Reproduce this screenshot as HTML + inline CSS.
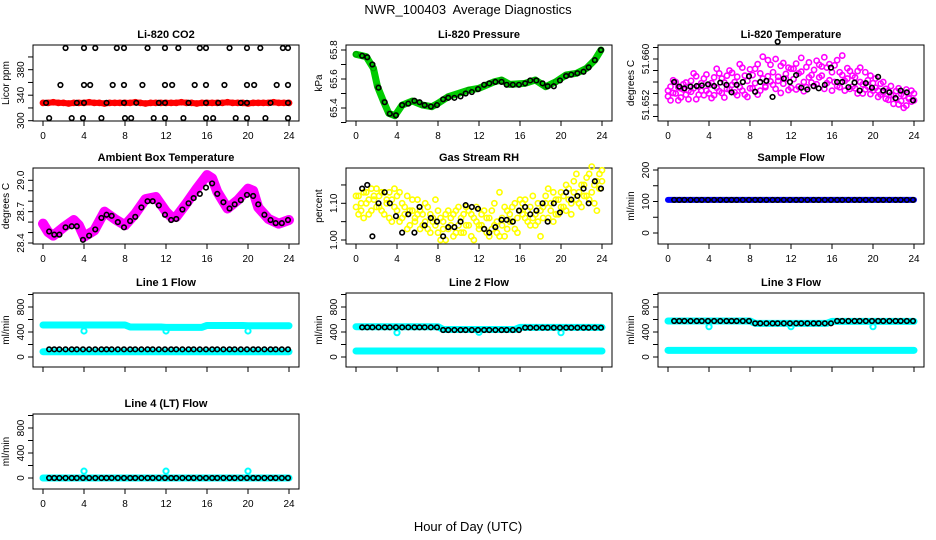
<!DOCTYPE html>
<html><head><meta charset="utf-8">
<style>
html,body{margin:0;padding:0;background:#fff;}
svg{display:block;font-family:"Liberation Sans",sans-serif;}
</style></head>
<body>
<svg id="chart" width="936" height="540" viewBox="0 0 936 540" xmlns="http://www.w3.org/2000/svg">
<rect x="0" y="0" width="936" height="540" fill="#fff"/>
<text x="468" y="14" text-anchor="middle" font-size="13">NWR_100403&#160; Average Diagnostics</text>
<text x="468" y="531" text-anchor="middle" font-size="13">Hour of Day (UTC)</text>
</svg>
<script>
const hoursB=[0.6,1.1,1.6,2.2,2.8,3.3,3.9,4.5,5.1,5.7,6.2,6.7,7.3,7.9,8.5,9.0,9.6,10.2,10.7,11.3,11.9,12.5,13.0,13.6,14.2,14.7,15.3,15.9,16.5,17.0,17.6,18.2,18.7,19.3,19.9,20.5,21.0,21.6,22.2,22.7,23.3,23.9];
const hoursF=[0,0.5,1,1.5,2,2.5,3,3.5,4,4.5,5,5.5,6,6.5,7,7.5,8,8.5,9,9.5,10,10.5,11,11.5,12,12.5,13,13.5,14,14.5,15,15.5,16,16.5,17,17.5,18,18.5,19,19.5,20,20.5,21,21.5,22,22.5,23,23.5,24];
const hoursC=[0,0.25,0.5,0.75,1,1.25,1.5,1.75,2,2.25,2.5,2.75,3,3.25,3.5,3.75,4,4.25,4.5,4.75,5,5.25,5.5,5.75,6,6.25,6.5,6.75,7,7.25,7.5,7.75,8,8.25,8.5,8.75,9,9.25,9.5,9.75,10,10.25,10.5,10.75,11,11.25,11.5,11.75,12,12.25,12.5,12.75,13,13.25,13.5,13.75,14,14.25,14.5,14.75,15,15.25,15.5,15.75,16,16.25,16.5,16.75,17,17.25,17.5,17.75,18,18.25,18.5,18.75,19,19.25,19.5,19.75,20,20.25,20.5,20.75,21,21.25,21.5,21.75,22,22.25,22.5,22.75,23,23.25,23.5,23.75,24];
const xTicks=[0,4,8,12,16,20,24];
const dipHours=[4,12,20];

// CO2
const co2Hours=[2.2,4.0,5.1,7.2,7.9,10.2,11.9,13.2,15.3,15.9,18.2,19.9,21.2,23.4,23.9,
1.7,4.0,4.6,6.8,7.9,9.7,11.9,12.6,14.8,15.9,17.7,19.9,20.6,22.8,23.9,
0.3,3.3,4.0,6.2,7.9,9.1,11.3,11.9,14.2,15.9,17.1,19.3,19.9,22.2,23.9,
0.6,2.8,3.9,5.7,8.0,8.6,10.8,11.9,13.7,15.9,16.6,18.8,19.9,21.7,23.9];
const co2Vals=[414,414,414,414,414,414,414,414,414,414,414,414,414,414,414,
356,356,356,356,356,356,356,356,356,356,356,356,356,356,356,
328,328,328,328,328,328,328,328,328,328,328,328,328,328,328,
304,304,304,304,304,304,304,304,304,304,304,304,304,304,304];
const co2Red=[328,328,329,328,328,327,328,328,328,329,328,328,327,328,328,328,328,328,329,328,327,328,328,328,328,328,328,329,328,328,327,328,328,328,328,328,329,328,328,328,327,328,328,328,328,329,328,328,328];
const co2Ticks=[300,320,340,360,380,400];
const co2Labels=[300,340,380];

// Pressure
const pressHours=[0,1,1.7,2.1,2.7,3.2,3.8,4.5,5.5,6.5,7.4,8,9,11,12,13.5,14.2,15,16.5,17.5,18.5,19.5,20.5,21.5,22.5,23.3,23.9];
const pressGreen=[65.77,65.754,65.674,65.547,65.443,65.363,65.347,65.42,65.448,65.42,65.409,65.432,65.478,65.524,65.536,65.581,65.593,65.563,65.57,65.593,65.547,65.581,65.628,65.639,65.674,65.731,65.8];
const pressB=[65.76,65.75,65.70,65.54,65.44,65.36,65.35,65.42,65.43,65.45,65.44,65.42,65.41,65.42,65.46,65.47,65.47,65.48,65.50,65.51,65.53,65.56,65.57,65.58,65.58,65.56,65.56,65.56,65.57,65.59,65.59,65.57,65.55,65.55,65.59,65.62,65.63,65.64,65.65,65.68,65.73,65.80];
const pressTicks=[65.3,65.4,65.5,65.6,65.7,65.8];
const pressLabels=["65.4","65.6","65.8"];
const pressLabelVals=[65.4,65.6,65.8];

// Li-820 temperature
const tempC1=[51.6535,51.6552,51.6541,51.6560,51.6528,51.6549,51.6556,51.6538,51.6545,
51.6562,51.6549,51.6570,51.6538,51.6558,51.6566,51.6545,51.6555,
51.6532,51.6568,51.6550,51.6575,51.6541,51.6559,51.6548,51.6580,
51.6555,51.6542,51.6569,51.6551,51.6585,51.6538,51.6562,51.6549,
51.6572,51.6558,51.6591,51.6545,51.6566,51.6553,51.6598,51.6561,
51.6577,51.6548,51.6569,51.6588,51.6557,51.6574,51.6546,51.6583,
51.6565,51.6592,51.6552,51.6578,51.6544,51.6586,51.6568,51.6559,
51.6581,51.6556,51.6590,51.6571,51.6548,51.6585,51.6563,51.6577,
51.6560,51.6598,51.6551,51.6572,51.6545,51.6566,51.6579,51.6552,
51.6568,51.6540,51.6585,51.6556,51.6547,51.6563,51.6539,51.6558,
51.6550,51.6534,51.6557,51.6542,51.6548,51.6529,51.6553,51.6537,
51.6544,51.6521,51.6539,51.6515,51.6547,51.6533,51.6526,51.6540];
const tempC2=[51.6545,51.6528,51.6563,51.6540,51.6551,51.6533,51.6547,51.6559,51.6530,
51.6543,51.6575,51.6530,51.6552,51.6545,51.6537,51.6573,51.6540,
51.6558,51.6537,51.6583,51.6544,51.6566,51.6533,51.6571,51.6547,
51.6576,51.6560,51.6537,51.6591,51.6545,51.6571,51.6534,51.6582,
51.6549,51.6583,51.6538,51.6575,51.6604,51.6551,51.6570,51.6590,
51.6555,51.6600,51.6562,51.6541,51.6593,51.6566,51.6585,51.6550,
51.6583,51.6547,51.6575,51.6602,51.6560,51.6551,51.6594,51.6572,
51.6553,51.6597,51.6568,51.6587,51.6603,51.6558,51.6591,51.6545,
51.6589,51.6553,51.6577,51.6606,51.6562,51.6584,51.6548,51.6571,
51.6549,51.6579,51.6560,51.6540,51.6577,51.6552,51.6571,51.6545,
51.6566,51.6545,51.6538,51.6560,51.6531,51.6544,51.6537,51.6522,
51.6530,51.6549,51.6527,51.6536,51.6519,51.6531,51.6545,51.6528];
const tempB=[51.6560,51.6552,51.6549,51.6552,51.6553,51.6554,51.6556,51.6553,51.6559,51.6555,51.6542,51.6555,51.6560,51.6570,51.6543,51.6560,51.6562,51.6534,51.6630,51.6566,51.6560,51.6572,51.6550,51.6547,51.6553,51.6549,51.6555,51.6585,51.6560,51.6560,51.6551,51.6559,51.6545,51.6558,51.6550,51.6569,51.6545,51.6542,51.6532,51.6545,51.6542,51.6528];
const tempTicks=[51.650,51.652,51.654,51.656,51.658,51.660,51.662];
const tempLabels=["51.652","51.660"];
const tempLabelVals=[51.652,51.660];

// Ambient box temperature
const ambHours=[0,0.5,1,2,3,3.5,4,5,6,7,8,9,10,11,12,12.5,13,14,15,16,16.5,17,18,19,20,20.5,21,22,23,24];
const ambVals=[28.585,28.505,28.47,28.55,28.62,28.57,28.46,28.52,28.70,28.63,28.57,28.68,28.82,28.84,28.70,28.65,28.65,28.78,28.92,29.05,29.02,28.89,28.73,28.81,28.92,28.90,28.74,28.63,28.585,28.62];
const ambB=[28.51,28.48,28.48,28.55,28.56,28.56,28.43,28.47,28.53,28.64,28.67,28.66,28.60,28.55,28.61,28.65,28.74,28.80,28.80,28.76,28.67,28.62,28.63,28.72,28.78,28.83,28.87,28.93,28.97,28.87,28.79,28.73,28.77,28.81,28.86,28.85,28.77,28.67,28.62,28.59,28.59,28.62];
const ambTicks=[28.4,28.5,28.6,28.7,28.8,28.9,29.0];
const ambLabels=["28.4","28.7","29.0"];
const ambLabelVals=[28.4,28.7,29.0];

// Gas stream RH
const rhC1=[1.09,1.12,1.08,1.13,1.10,1.07,1.14,1.11,1.09,
1.12,1.08,1.13,1.10,1.06,1.11,1.14,1.08,
1.05,1.10,1.07,1.12,1.04,1.08,1.06,1.11,
1.03,1.07,1.05,1.09,1.02,1.06,1.04,1.08,
1.00,1.05,1.07,1.03,1.06,1.01,1.08,1.04,
1.06,1.02,1.09,1.04,1.07,1.00,1.05,1.03,
1.04,1.08,1.02,1.06,1.03,1.10,1.05,1.01,
1.06,1.09,1.03,1.07,1.05,1.10,1.02,1.08,
1.07,1.11,1.05,1.09,1.06,1.04,1.10,1.08,
1.09,1.12,1.06,1.10,1.13,1.07,1.11,1.09,
1.12,1.08,1.14,1.10,1.16,1.11,1.13,1.09,
1.15,1.12,1.18,1.13,1.10,1.16,1.14,1.19];
const rhC2=[1.12,1.07,1.10,1.06,1.13,1.11,1.08,1.12,1.14,
1.09,1.13,1.07,1.11,1.13,1.05,1.09,1.12,
1.13,1.06,1.09,1.03,1.08,1.11,1.05,1.07,
1.08,1.04,1.10,1.03,1.07,1.05,1.11,1.02,
1.06,1.03,1.00,1.08,1.04,1.07,1.02,1.09,
1.02,1.07,1.04,1.08,1.01,1.06,1.09,1.04,
1.07,1.03,1.06,1.01,1.08,1.04,1.02,1.13,
1.04,1.01,1.08,1.05,1.09,1.03,1.06,1.11,
1.10,1.06,1.08,1.04,1.12,1.07,1.05,1.01,
1.06,1.10,1.14,1.08,1.05,1.11,1.07,1.13,
1.09,1.15,1.11,1.07,1.13,1.18,1.10,1.15,
1.12,1.17,1.11,1.20,1.15,1.08,1.18,1.16];
const rhB=[1.14,1.15,1.01,1.10,1.13,1.10,1.065,1.02,1.07,1.02,1.09,1.04,1.06,1.05,1.01,1.035,1.035,1.05,1.095,1.09,1.085,1.03,1.02,1.035,1.055,1.055,1.05,1.08,1.09,1.07,1.08,1.10,1.05,1.10,1.075,1.13,1.11,1.12,1.14,1.10,1.16,1.14];
const rhTicks=[1.00,1.05,1.10,1.15];
const rhLabels=["1.00","1.10"];
const rhLabelVals=[1.00,1.10];

// Sample flow
const sampleBlue=[105,105,105,105,105,105,105,105,105,105,105,105,105,105,105,105,105,105,105,105,105,105,105,105,105,105,105,105,105,105,105,105,105,105,105,105,105,105,105,105,105,105,105,105,105,105,105,105,105];
const sampleB=[105,105,105,105,105,105,105,105,105,105,105,105,105,105,105,105,105,105,105,105,105,105,105,105,105,105,105,105,105,105,105,105,105,105,105,105,105,105,105,105,105,105];
const sampleTicks=[0,50,100,150,200];
const sampleLabels=[0,100,200];

// Line flows
const flowTicks=[0,200,400,600,800,1000];
const flowLabels=[0,400,800];
const line1Up=[512,512,512,512,512,512,512,512,512,512,512,512,512,512,512,512,512,480,480,480,480,480,480,480,475,475,475,475,475,475,475,475,505,505,505,505,505,505,505,505,500,500,500,500,500,500,500,500,500];
const line1Low=[85,85,85,85,85,85,85,85,85,85,85,85,85,85,85,85,85,85,85,85,85,85,85,85,85,85,85,85,85,85,85,85,85,85,85,85,85,85,85,85,85,85,85,85,85,85,85,85,85];
const line1Dip=[416,416,416];
const line1B=[123,123,123,123,123,123,123,123,123,123,123,123,123,123,123,123,123,123,123,123,123,123,123,123,123,123,123,123,123,123,123,123,123,123,123,123,123,123,123,123,123,123];
const line2Up=[485,485,485,485,485,485,485,485,485,485,485,485,485,485,485,485,485,440,440,440,440,440,440,440,440,440,440,440,440,440,440,440,475,475,475,475,475,475,475,475,475,475,475,475,475,475,475,475,475];
const line2Low=[96,96,96,96,96,96,96,96,96,96,96,96,96,96,96,96,96,96,96,96,96,96,96,96,96,96,96,96,96,96,96,96,96,96,96,96,96,96,96,96,96,96,96,96,96,96,96,96,96];
const line2Dip=[389,395,389];
const line2B=[475,475,475,475,475,475,475,475,475,475,475,475,475,475,432,432,432,432,432,432,432,432,432,432,432,432,432,432,469,469,469,469,469,469,469,469,469,469,469,469,469,469];
const line3Up=[576,576,576,576,576,576,576,576,576,576,576,576,576,576,576,576,576,539,539,539,539,539,539,539,539,539,539,539,539,539,539,539,570,570,570,570,570,570,570,570,570,570,570,570,570,570,570,570,570];
const line3Low=[107,107,107,107,107,107,107,107,107,107,107,107,107,107,107,107,107,107,107,107,107,107,107,107,107,107,107,107,107,107,107,107,107,107,107,107,107,107,107,107,107,107,107,107,107,107,107,107,107];
const line3Dip=[485,485,485];
const line3B=[576,576,576,576,576,576,576,576,576,576,576,576,576,576,539,539,539,539,539,539,539,539,539,539,539,539,539,539,576,576,576,576,576,576,576,576,576,576,576,576,576,576];
const line4Cyan=[0,0,0,0,0,0,0,0,0,0,0,0,0,0,0,0,0,0,0,0,0,0,0,0,0,0,0,0,0,0,0,0,0,0,0,0,0,0,0,0,0,0,0,0,0,0,0,0,0];
const line4Dip=[110,110,110];
const line4B=[0,0,0,0,0,0,0,0,0,0,0,0,0,0,0,0,0,0,0,0,0,0,0,0,0,0,0,0,0,0,0,0,0,0,0,0,0,0,0,0,0,0];

const NS="http://www.w3.org/2000/svg";
const svg=document.getElementById('chart');
const COLX=[43,356,668];
const ROWS=[[45,121],[168,244],[293,367],[414,489]];
function xMap(c){return h=>COLX[c]+h*246/24;}
function lin(v1,p1,v2,p2){return v=>p1+(v-v1)*(p2-p1)/(v2-v1);}
function mk(tag,attrs,parent){const e=document.createElementNS(NS,tag);for(const k in attrs)e.setAttribute(k,attrs[k]);(parent||svg).appendChild(e);return e;}

function frame(c,r,title,ylab,ym,ticks,lblVals,lblText,showX,name){
  const g=mk('g',{});
  
  
  const L=COLX[c]-10,R=COLX[c]+256,T=ROWS[r][0],B=ROWS[r][1];
  const box=mk('rect',{x:L,y:T,width:R-L,height:B-T,fill:'none',stroke:'#000','stroke-width':1},g);
  
  
  const t=mk('text',{x:(L+R)/2,y:T-7,'text-anchor':'middle','font-size':11,'font-weight':'bold'},g);
  t.textContent=title;
  
  
  const xm=xMap(c);
  const xa=mk('line',{x1:xm(0),x2:xm(24),y1:B,y2:B,stroke:'#000'},g);
  
  
  xTicks.forEach(h=>{
    const tk=mk('line',{x1:xm(h),x2:xm(h),y1:B,y2:B+5,stroke:'#000'},g);
    
    
    if(showX){
      const tl=mk('text',{x:xm(h),y:B+18,'text-anchor':'middle','font-size':10},g);
      tl.textContent=h;
      
      
    }
  });
  const ya=mk('line',{x1:L,x2:L,y1:ym(ticks[0]),y2:ym(ticks[ticks.length-1]),stroke:'#000'},g);
  
  
  ticks.forEach(v=>{
    const tk=mk('line',{x1:L-5,x2:L,y1:ym(v),y2:ym(v),stroke:'#000'},g);
    
    
  });
  lblVals.forEach((v,i)=>{
    const y=ym(v),x=L-9;
    const tl=mk('text',{x:x,y:y,'text-anchor':'middle','font-size':10,transform:`rotate(-90 ${x} ${y})`},g);
    tl.textContent=lblText[i];
    
    
  });
  const yx=L-24,yy=(T+B)/2;
  const yt=mk('text',{x:yx,y:yy,'text-anchor':'middle','font-size':10,transform:`rotate(-90 ${yx} ${yy})`},g);
  yt.textContent=ylab;
  
  
  return g;
}
function pts(g,xm,ym,hs,vs,color,r,sw,name){
  hs.forEach((h,i)=>{
    const e=mk('circle',{cx:xm(h),cy:ym(vs[i]),r:r,fill:'none',stroke:color,'stroke-width':sw},g);
    
    
  });
}
function band(g,xm,ym,hs,vs,color,w,name){
  const e=mk('polyline',{points:hs.map((h,i)=>xm(h)+','+ym(vs[i])).join(' '),fill:'none',stroke:color,'stroke-width':w,'stroke-linejoin':'round','stroke-linecap':'round'},g);
  
  
}
const BK='#000',BR=2.3,BW=1.6,CR=2.6,CW=1.6;

// Panel 1 CO2
{const ym=lin(300,120.7,380,69.7),xm=xMap(0);
 const g=frame(0,0,'Li-820 CO2','Licor ppm',ym,co2Ticks,co2Labels,co2Labels,true,'co2');
 band(g,xm,ym,hoursF,co2Red,'#ff0000',6,'co2-red-series');
 pts(g,xm,ym,hoursF,co2Red,'#ff0000',CR,CW,'co2-red-point');
 pts(g,xm,ym,co2Hours,co2Vals,BK,BR,BW,'co2-black-point');}
// Panel 2 Pressure
{const ym=lin(65.4,108,65.8,50),xm=xMap(1);
 const g=frame(1,0,'Li-820 Pressure','kPa',ym,pressTicks,pressLabelVals,pressLabels,true,'pressure');
 band(g,xm,ym,pressHours,pressGreen,'#00cc00',7,'pressure-green-series');
 pts(g,xm,ym,pressHours,pressGreen,'#009900',CR,1,'pressure-green-point');
 pts(g,xm,ym,hoursB,pressB,BK,BR,BW,'pressure-black-point');}
// Panel 3 Li-820 temp
{const ym=lin(51.652,105,51.660,59),xm=xMap(2);
 const g=frame(2,0,'Li-820 Temperature','degrees C',ym,tempTicks,tempLabelVals,tempLabels,true,'li820-temp');
 pts(g,xm,ym,hoursC,tempC1,'#ff00ff',CR,CW,'li820-temp-magenta-point');
 pts(g,xm,ym,hoursC,tempC2,'#ff00ff',CR,CW,'li820-temp-magenta-point');
 pts(g,xm,ym,hoursB,tempB,BK,BR,BW,'li820-temp-black-point');}
// Panel 4 Ambient
{const ym=lin(28.4,243,29.0,180.3),xm=xMap(0);
 const g=frame(0,1,'Ambient Box Temperature','degrees C',ym,ambTicks,ambLabelVals,ambLabels,true,'ambient');
 band(g,xm,ym,ambHours,ambVals,'#ff00ff',10,'ambient-magenta-series');
 pts(g,xm,ym,hoursB,ambB,BK,BR,BW,'ambient-black-point');}
// Panel 5 RH
{const ym=lin(1.00,240,1.10,203.3),xm=xMap(1);
 const g=frame(1,1,'Gas Stream RH','percent',ym,rhTicks,rhLabelVals,rhLabels,true,'rh');
 pts(g,xm,ym,hoursC,rhC1,'#ffff00',CR,CW,'rh-yellow-point');
 pts(g,xm,ym,hoursC,rhC2,'#ffff00',CR,CW,'rh-yellow-point');
 pts(g,xm,ym,hoursB,rhB,BK,BR,BW,'rh-black-point');}
// Panel 6 Sample flow
{const ym=lin(0,233,200,170),xm=xMap(2);
 const g=frame(2,1,'Sample Flow','ml/min',ym,sampleTicks,sampleLabels,sampleLabels,true,'sample-flow');
 band(g,xm,ym,hoursF,sampleBlue,'#0000ff',6,'sample-flow-blue-series');
 pts(g,xm,ym,hoursB,sampleB,BK,BR,BW,'sample-flow-black-point');}
// Flow panels
function flowPanel(c,r,title,name,up,low,dip,blk,showX){
  const T=ROWS[r][0];
  const ym=lin(0,T+64,800,T+14),xm=xMap(c);
  const g=frame(c,r,title,'ml/min',ym,flowTicks,flowLabels,flowLabels,showX,name);
  if(up){band(g,xm,ym,hoursF,up,'#00ffff',7,name+'-cyan-upper-series');}
  band(g,xm,ym,hoursF,low,'#00ffff',7,name+'-cyan-lower-series');
  pts(g,xm,ym,dipHours,dip,'#00ffff',CR,2,name+'-cyan-outlier');
  pts(g,xm,ym,hoursB,blk,BK,BR,BW,name+'-black-point');
}
flowPanel(0,2,'Line 1 Flow','line1-flow',line1Up,line1Low,line1Dip,line1B,false);
flowPanel(1,2,'Line 2 Flow','line2-flow',line2Up,line2Low,line2Dip,line2B,false);
flowPanel(2,2,'Line 3 Flow','line3-flow',line3Up,line3Low,line3Dip,line3B,false);
flowPanel(0,3,'Line 4 (LT) Flow','line4-flow',null,line4Cyan,line4Dip,line4B,true);
</script>
</body></html>
